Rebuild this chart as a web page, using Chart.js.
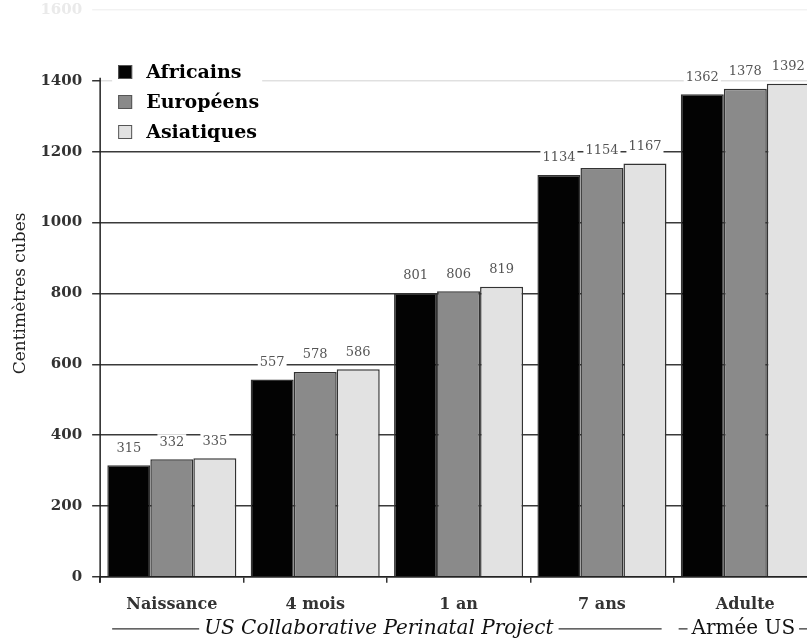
<!DOCTYPE html>
<html>
<head>
<meta charset="utf-8" />
<script src="https://cdn.jsdelivr.net/npm/chart.js@4.4.0/dist/chart.umd.min.js"></script>
<style>
  html, body { margin: 0; padding: 0; background: #fff; overflow: hidden; }
  #wrap { width: 825px; height: 641px; overflow: hidden; }
  #chart { display: block; margin-top: -9px; }
</style>
</head>
<body>
<div id="wrap"><canvas id="chart" width="825" height="652"></canvas></div>
<script>
const categories = ["Naissance", "4 mois", "1 an", "7 ans", "Adulte"];
const seriesNames = ["Africains", "Européens", "Asiatiques"];
const africains = [315, 557, 801, 1134, 1362];
const europeens = [332, 578, 806, 1154, 1378];
const asiatiques = [335, 586, 819, 1167, 1392];
const yTicks = [0, 200, 400, 600, 800, 1000, 1200, 1400, 1600];
const groupLabels = ["US Collaborative Perinatal Project", "Armée US"];

const fills = ["#030303", "#8a8a8a", "#e2e2e2"];
const serif = "'DejaVu Serif', serif";

// value labels above each bar, white box hides the grid behind
const valueLabels = {
  id: "valueLabels",
  afterDatasetsDraw(chart) {
    const ctx = chart.ctx;
    ctx.save();
    ctx.font = "13px " + serif;
    ctx.textAlign = "center";
    ctx.textBaseline = "middle";
    chart.data.datasets.forEach((ds, i) => {
      const meta = chart.getDatasetMeta(i);
      meta.data.forEach((bar, j) => {
        const txt = String(ds.data[j]);
        const w = ctx.measureText(txt).width;
        const y = bar.y - 17;
        ctx.fillStyle = "#fff";
        ctx.fillRect(bar.x - w / 2 - 2, y - 8, w + 4, 16);
        ctx.fillStyle = "#555";
        ctx.fillText(txt, bar.x, y);
      });
    });
    ctx.restore();
  },
};

// legend drawn inside the plot, top left
const innerLegend = {
  id: "innerLegend",
  afterDatasetsDraw(chart) {
    const ctx = chart.ctx;
    const area = chart.chartArea;
    const x0 = area.left + 18;
    const y0 = area.top + 62;
    ctx.save();
    ctx.fillStyle = "#fff";
    ctx.fillRect(x0 - 6, y0 - 14, 150, 88);
    ctx.font = "bold 19px " + serif;
    ctx.textBaseline = "middle";
    chart.data.datasets.forEach((ds, i) => {
      const y = y0 + i * 30;
      ctx.fillStyle = ds.backgroundColor;
      ctx.fillRect(x0, y - 7, 14, 14);
      ctx.strokeStyle = "#555";
      ctx.lineWidth = 1;
      ctx.strokeRect(x0 + 0.5, y - 6.5, 13, 13);
      ctx.fillStyle = "#000";
      ctx.fillText(ds.label, x0 + 28, y + 1);
    });
    ctx.restore();
  },
};

// y axis line only up to 1400, and second row of group labels
const extras = {
  id: "extras",
  afterDraw(chart) {
    const ctx = chart.ctx;
    const x = chart.scales.x;
    const y = chart.scales.y;
    ctx.save();
    ctx.strokeStyle = "#222";
    ctx.lineWidth = 1.5;
    ctx.beginPath();
    ctx.moveTo(x.left, y.getPixelForValue(1400) - 3);
    ctx.lineTo(x.left, y.getPixelForValue(0) + 6);
    ctx.stroke();

    const catW = x.width / categories.length;
    const rowY = y.bottom + 52;
    ctx.textBaseline = "middle";
    ctx.textAlign = "center";
    ctx.lineWidth = 1.2;
    ctx.strokeStyle = "#333";
    ctx.fillStyle = "#111";

    // first group spans first four categories
    const s1 = x.left;
    const e1 = x.left + catW * 4;
    ctx.font = "italic 20px " + serif;
    const w1 = ctx.measureText(groupLabels[0]).width;
    const m1 = (s1 + e1) / 2 - 8;
    ctx.fillText(groupLabels[0], m1, rowY);
    ctx.beginPath();
    ctx.moveTo(s1 + 12, rowY);
    ctx.lineTo(m1 - w1 / 2 - 5, rowY);
    ctx.moveTo(m1 + w1 / 2 + 5, rowY);
    ctx.lineTo(e1 - 12, rowY);
    ctx.stroke();

    // second group: last category
    const s2 = e1;
    const e2 = x.right;
    ctx.font = "20px " + serif;
    const w2 = ctx.measureText(groupLabels[1]).width;
    const m2 = (s2 + e2) / 2 - 2;
    ctx.fillText(groupLabels[1], m2, rowY);
    ctx.beginPath();
    ctx.moveTo(s2 + 5, rowY);
    ctx.lineTo(m2 - w2 / 2 - 4, rowY);
    ctx.moveTo(m2 + w2 / 2 + 4, rowY);
    ctx.lineTo(e2 + 10, rowY);
    ctx.stroke();
    ctx.restore();
  },
};

const gridColor = (c) => {
  const v = c.tick ? c.tick.value : 0;
  if (v === 1600) return "rgba(0,0,0,0.05)";
  if (v === 1400) return "rgba(0,0,0,0.12)";
  return "#3a3a3a";
};

new Chart(document.getElementById("chart"), {
  type: "bar",
  data: {
    labels: categories,
    datasets: [
      { label: seriesNames[0], data: africains, backgroundColor: fills[0] },
      { label: seriesNames[1], data: europeens, backgroundColor: fills[1] },
      { label: seriesNames[2], data: asiatiques, backgroundColor: fills[2] },
    ],
  },
  options: {
    responsive: false,
    animation: false,
    layout: { padding: { left: 10, right: 8, top: 0, bottom: 17 } },
    datasets: {
      bar: {
        borderColor: "#333",
        borderWidth: 1.5,
        categoryPercentage: 0.9,
        barPercentage: 1,
      },
    },
    plugins: {
      legend: { display: false },
      tooltip: { enabled: false },
    },
    scales: {
      x: {
        grid: {
          offset: true,
          drawOnChartArea: false,
          tickLength: 6,
          color: "#333",
          lineWidth: 1.5,
        },
        border: { color: "#222", width: 1.5 },
        ticks: {
          padding: 12,
          color: "#333",
          font: { family: serif, size: 16, weight: "bold" },
        },
      },
      y: {
        min: 0,
        max: 1600,
        afterBuildTicks: (axis) => {
          axis.ticks = yTicks.map((v) => ({ value: v }));
        },
        grid: {
          color: gridColor,
          tickColor: (c) => (c.tick && c.tick.value === 1600 ? "rgba(0,0,0,0.05)" : "#333"),
          lineWidth: 1.5,
          tickLength: 8,
        },
        border: { display: false },
        ticks: {
          padding: 10,
          callback: (v) => String(v),
          color: (c) => (c.tick && c.tick.value === 1600 ? "#eaeaea" : "#333"),
          font: { family: serif, size: 15, weight: "bold" },
        },
        title: {
          display: true,
          text: "Centimètres cubes",
          color: "#222",
          font: { family: serif, size: 17 },
          padding: { top: 0, bottom: 0 },
        },
      },
    },
  },
  plugins: [valueLabels, innerLegend, extras],
});
</script>
</body>
</html>
